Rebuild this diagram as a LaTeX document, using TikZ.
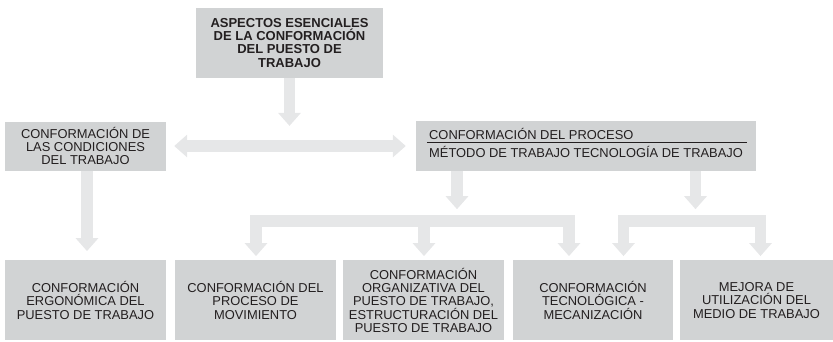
\documentclass[tikz,border=0pt]{standalone}
\usepackage{fontspec}
\setmainfont{Liberation Sans}
\usepackage{xcolor}
\usepackage{tikz}
\usetikzlibrary{arrows.meta}
\definecolor{boxg}{HTML}{D1D3D4}
\definecolor{arrg}{HTML}{E6E7E8}
\definecolor{inkx}{HTML}{231F20}
\tikzset{
  bx/.style={fill=boxg,text=inkx,align=center,inner sep=0pt,font={\fontsize{12.9}{13.3}\selectfont\lineskiplimit=-20pt\relax}},
  hd/.style={bx,font={\bfseries\fontsize{13}{13.4}\selectfont\lineskiplimit=-20pt\relax}},
  bt/.style={bx,minimum width=161pt,minimum height=80pt},
  ar/.style={arrg,line width=11.5pt,-{Triangle[length=13pt,width=22pt]}},
  arb/.style={arrg,line width=11.5pt,{Triangle[length=13pt,width=22pt]}-{Triangle[length=13pt,width=22pt]}}
}

\begin{document}
\begin{tikzpicture}[x=1pt,y=1pt]
\useasboundingbox (0,0) rectangle (833,-341);
\node[hd,minimum width=187pt,minimum height=70pt] (top) at (289.5,-42.7) {ASPECTOS ESENCIALES\\DE LA CONFORMACIÓN\\DEL PUESTO DE\\TRABAJO};
\node[bx,minimum width=161pt,minimum height=49pt] (cond) at (85.5,-146) {CONFORMACIÓN DE\\LAS CONDICIONES\\DEL TRABAJO};
\node[bx,minimum width=340pt,minimum height=50pt,align=left] (proc) at (586,-146) {CONFORMACIÓN DEL PROCESO\\[5pt]MÉTODO DE TRABAJO TECNOLOGÍA DE TRABAJO\rule[-6pt]{0pt}{6pt}};
\draw[inkx,line width=0.8pt] ([xshift=11pt,yshift=4pt]proc.west) -- ([xshift=-9pt,yshift=4pt]proc.east);
% bottom row
\node[bt] (b1) at (85.5,-300.3) {CONFORMACIÓN\\ERGONÓMICA DEL\\PUESTO DE TRABAJO};
\node[bt] (b2) at (255.5,-300.3) {CONFORMACIÓN DEL\\PROCESO DE\\MOVIMIENTO};
\node[bt] (b3) at (423.5,-300.3) {CONFORMACIÓN\\ORGANIZATIVA DEL\\PUESTO DE TRABAJO,\\ESTRUCTURACIÓN DEL\\PUESTO DE TRABAJO};
\node[bt,minimum width=160pt] (b4) at (593,-300.3) {CONFORMACIÓN\\TECNOLÓGICA -\\MECANIZACIÓN};
\node[bt,minimum width=153pt] (b5) at (756.5,-300.3) {MEJORA DE\\UTILIZACIÓN DEL\\MEDIO DE TRABAJO};
% arrows
\draw[ar] (top.south) -- ++(0,-48);
\draw[arb] ([xshift=8pt]cond.east) -- ([xshift=-10pt]proc.west);
\draw[ar] ([xshift=1.5pt]cond.south) -- ([xshift=1.5pt,yshift=9pt]b1.north);
\draw[ar] ([xshift=-129pt]proc.south) -- ++(0,-38);
\draw[ar] ([xshift=109.5pt]proc.south) -- ++(0,-38);
\coordinate (bar) at (0,-221);
\coordinate (t2) at ([xshift=0.5pt,yshift=4pt]b2.north);
\coordinate (t3) at ([xshift=0.5pt,yshift=4pt]b3.north);
\coordinate (t4a) at ([xshift=-24pt,yshift=4pt]b4.north);
\coordinate (t4b) at ([xshift=30.5pt,yshift=4pt]b4.north);
\coordinate (t5) at ([xshift=4pt,yshift=4pt]b5.north);
\draw[arb] (t2) |- (t4a |- bar) -- (t4a);
\draw[ar] (t3 |- bar) -- (t3);
\draw[arb] (t4b) |- (t5 |- bar) -- (t5);
\end{tikzpicture}
\end{document}
